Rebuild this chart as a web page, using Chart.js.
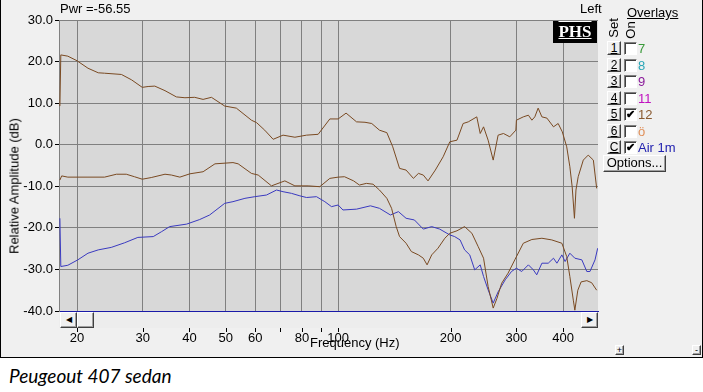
<!DOCTYPE html>
<html>
<head>
<meta charset="utf-8">
<script src="https://cdn.jsdelivr.net/npm/chart.js@4.4.1/dist/chart.umd.min.js"></script>
<style>
  body { margin: 0; width: 703px; height: 392px; background: #fff; position: relative; overflow: hidden;
         font-family: Arial, "Liberation Sans", sans-serif; font-size: 13px; color: #000; }
  #frame { position: absolute; left: 0; top: 0; width: 701px; height: 357px; background: #f0f0f0;
           border: 1px solid #000; border-top: none; }
  #chart { position: absolute; left: 0; top: 0; }
  .abs { position: absolute; white-space: nowrap; }
  .btn { position: absolute; background: #f0f0f0; box-sizing: border-box; text-align: center;
         border: 1px solid; border-color: #fff #404040 #404040 #fff; box-shadow: inset -1px -1px 0 #a0a0a0; }
  .chk { position: absolute; width: 13px; height: 13px; box-sizing: border-box; background: #fff;
         border: 1px solid; border-color: #808080 #fff #fff #808080; box-shadow: inset 1px 1px 0 #404040;
         font-size: 11px; line-height: 11px; text-align: center; font-weight: bold; }
  .lbl { position: absolute; left: 638px; font-size: 13px; }
</style>
</head>
<body>
<div id="frame"></div>
<canvas id="chart" width="703" height="359"></canvas>

<div class="abs" style="left:60px;top:1px;">Pwr =-56.55</div>
<div class="abs" style="left:580px;top:1px;">Left</div>
<div class="abs" style="left:553px;top:21px;width:44px;height:22px;background:#000;color:#fff;
     font:bold 17px 'Liberation Serif',serif;text-align:center;line-height:22px;
     text-decoration:underline overline;">PHS</div>
<div class="abs" style="left:14px;top:186px;transform:translate(-50%,-50%) rotate(-90deg);">Relative Amplitude (dB)</div>
<div class="abs" style="left:310px;top:335px;">Frequency (Hz)</div>

<!-- scroll bar under the plot -->
<div class="abs" style="left:59px;top:312px;width:539px;height:16px;background:#ededed;"></div>
<div class="btn" style="left:60px;top:312px;width:17px;height:16px;font-size:8px;line-height:14px;">&#9664;</div>
<div class="btn" style="left:77px;top:312px;width:17px;height:16px;"></div>
<div class="btn" style="left:581px;top:312px;width:17px;height:16px;font-size:8px;line-height:14px;">&#9654;</div>

<!-- overlay panel -->
<div class="abs" style="left:627px;top:5px;text-decoration:underline;">Overlays</div>
<div class="abs" style="left:613px;top:28px;transform:translate(-50%,-50%) rotate(-90deg);">Set</div>
<div class="abs" style="left:630px;top:30px;transform:translate(-50%,-50%) rotate(-90deg);">On</div>
<div id="panel"></div>
<div class="btn" style="left:603px;top:155px;width:63px;height:17px;line-height:14px;">Options...</div>
<div class="btn" style="left:615px;top:345px;width:9px;height:10px;font-size:9px;line-height:8px;">+</div>
<div class="btn" style="left:692px;top:345px;width:9px;height:10px;font-size:9px;line-height:8px;">-</div>

<div class="abs" style="left:9px;top:364px;font:italic 19px Lato,'Open Sans',sans-serif;color:#000;">Peugeout 407 sedan</div>

<script>
// upper brown trace
const freqA = [18.0, 18.1, 18.9, 20, 21.4, 22.8, 23.7, 26.3, 28.0, 29.9, 31.0, 32.3, 34.4, 36.9, 38.9, 41.3,
  43.5, 45.8, 49.7, 53.4, 58.6, 60.5, 63.6, 67.0, 71.2, 76.6, 82.3, 88.4, 95.0, 100, 105, 112, 118, 123,
  129, 135, 140, 146, 152, 159, 164, 169, 174, 182, 191, 199, 208, 216, 223, 235, 240, 245, 252, 260,
  268, 277, 288, 299, 300, 313, 323, 330, 336, 343, 351, 362, 377, 388, 398, 409, 417, 423, 429, 433,
  439, 453, 467, 482, 492];
const dbA = [9.3, 21.6, 21.3, 20.2, 18.4, 17.3, 17.2, 16.9, 15.6, 13.8, 14.0, 14.1, 13.0, 11.5, 11.3, 11.4,
  10.9, 11.4, 9.3, 8.8, 5.9, 5.3, 3.5, 1.3, 2.3, 1.8, 2.3, 2.5, 6.2, 6.2, 7.6, 5.5, 5.4, 5.1,
  3.5, 2.9, -0.5, -5.7, -6.1, -8.1, -6.9, -7.3, -8.7, -6.1, -2.9, 0.7, 1.1, 5.1, 5.5, 6.7, 2.7, 4.3, 1.1, -3.7,
  2.3, 2.7, 1.9, 3.5, 5.9, 6.7, 7.1, 5.9, 6.7, 8.8, 6.7, 6.4, 4.3, 5.1, 3.1, -0.5, -5.3, -10.1, -17.7, -10.9,
  -7.7, -3.7, -2.5, -3.7, -10.5];

// lower brown trace
const freqB = [18.0, 18.2, 18.9, 21.4, 23.7, 25.5, 27.1, 28.5, 29.9, 31.6, 34.4, 35.8, 37.7, 40.1, 43.5, 46.8,
  52.3, 54.0, 58.6, 61.1, 66.3, 72.0, 76.6, 83.1, 89.3, 95.0, 100, 104, 110, 114, 119, 124, 129, 135, 139,
  143, 146, 152, 157, 164, 169, 173, 178, 185, 193, 199, 208, 218, 228, 237, 245, 252, 260, 266, 274, 285,
  297, 313, 330, 351, 373, 397, 409, 417, 426, 430, 438, 447, 463, 477, 492];
const dbB = [-8.5, -7.5, -7.8, -7.8, -7.8, -7.1, -7.1, -7.7, -8.3, -7.9, -7.1, -7.3, -7.8, -7.0, -6.5, -4.6,
  -4.3, -4.6, -6.9, -7.3, -9.9, -8.7, -9.9, -9.9, -10.1, -8.1, -7.8, -7.7, -8.7, -9.7, -9.3, -9.5, -10.9, -12.9, -15.3,
  -19.7, -22.1, -23.7, -25.7, -26.5, -27.3, -28.9, -26.5, -24.9, -22.5, -21.3, -20.7, -19.7, -21.3, -24.5, -27.3, -34.1, -39.3, -37.0, -33.3, -30.9,
  -27.7, -23.7, -22.8, -22.5, -22.9, -23.7, -26.9, -31.7, -37.4, -39.8, -35.0, -33.0, -32.7, -33.2, -35.0];

// blue trace (Air 1m)
const freqC = [18.0, 18.1, 18.9, 20.1, 21.4, 22.8, 24.7, 26.8, 29.1, 32.0, 33.7, 35.4, 39.3, 42.6, 45.3, 49.7,
  52.3, 56.3, 59.8, 64.3, 68.4, 71.2, 75.0, 79.0, 82.3, 87.5, 92.1, 96.0, 100, 103, 112, 122, 129, 138, 145,
  152, 160, 169, 178, 187, 199, 205, 212, 218, 225, 232, 240, 245, 252, 260, 268, 280, 291, 300, 310, 323,
  333, 340, 351, 365, 377, 385, 397, 405, 417, 430, 449, 463, 472, 487, 495];
const dbC = [-17.7, -29.3, -29.0, -27.7, -26.1, -25.3, -24.7, -23.6, -22.3, -22.1, -20.9, -19.7, -19.1, -18.0, -16.9, -14.1,
  -13.7, -12.9, -12.5, -12.1, -10.9, -11.3, -11.7, -12.3, -12.7, -12.5, -13.7, -14.9, -14.5, -15.7, -15.5, -14.7, -15.3, -16.9, -16.1,
  -17.7, -18.1, -20.3, -19.7, -20.3, -21.7, -22.1, -22.9, -25.3, -26.5, -30.1, -28.9, -31.7, -34.9, -38.1, -35.4, -32.5, -30.5, -29.7, -30.5, -28.9,
  -30.1, -31.3, -28.5, -28.5, -27.3, -28.5, -26.5, -28.1, -26.1, -27.3, -27.7, -30.5, -30.5, -27.7, -24.9];

const xTicks = [20, 30, 40, 50, 60, 70, 80, 90, 100, 200, 300, 400];
const xLabels = ['20', '30', '40', '50', '60', '', '80', '', '100', '200', '300', '400'];

// overlay list on the right
const setKeys = ['1', '2', '3', '4', '5', '6', 'C'];
const overlayNames = ['7', '8', '9', '11', '12', 'ö', 'Air 1m'];
const overlayColors = ['#3a9a3a', '#2aa7b8', '#8a1a9a', '#c010c0', '#8a5a30', '#e0905a', '#2020b0'];
const overlayOn = [false, false, false, false, true, false, true];

const panel = document.getElementById('panel');
setKeys.forEach((k, i) => {
  const top = 41 + i * 16.5;
  panel.insertAdjacentHTML('beforeend',
    `<div class="btn" style="left:607px;top:${top}px;width:14px;height:14px;font-size:12px;line-height:12px;text-decoration:underline;">${k}</div>` +
    `<div class="chk" style="left:624px;top:${top + 1}px;">${overlayOn[i] ? '&#10004;' : ''}</div>` +
    `<div class="lbl" style="top:${top}px;color:${overlayColors[i]};">${overlayNames[i]}</div>`);
});

const toPts = (fs, ds) => fs.map((f, i) => ({ x: f, y: ds[i] }));

const plotBg = {
  id: 'plotBg',
  beforeDraw(chart) {
    const { ctx, chartArea: a } = chart;
    ctx.save();
    ctx.fillStyle = '#d8d8d8';
    ctx.fillRect(a.left, a.top, a.right - a.left, a.bottom - a.top);
    ctx.restore();
  },
  afterDraw(chart) {
    // small tick marks sit below the scroll bar
    const sx = chart.scales.x, ctx = chart.ctx;
    ctx.save();
    ctx.strokeStyle = '#000';
    ctx.lineWidth = 1;
    xTicks.forEach(v => {
      const px = Math.round(sx.getPixelForValue(v)) + 0.5;
      ctx.beginPath(); ctx.moveTo(px, 328); ctx.lineTo(px, 332); ctx.stroke();
    });
    ctx.restore();
  }
};

Chart.defaults.font.family = 'Arial, "Liberation Sans", sans-serif';
Chart.defaults.font.size = 13;
Chart.defaults.color = '#000';

new Chart(document.getElementById('chart'), {
  type: 'line',
  data: {
    datasets: [
      { data: toPts(freqA, dbA), borderColor: '#7a4a22', borderWidth: 1 },
      { data: toPts(freqB, dbB), borderColor: '#7a4a22', borderWidth: 1 },
      { data: toPts(freqC, dbC), borderColor: '#3a3ac0', borderWidth: 1 }
    ]
  },
  options: {
    responsive: false,
    animation: false,
    devicePixelRatio: 1,
    layout: { padding: { left: 0, top: 20, right: 105, bottom: 0 } },
    elements: { point: { radius: 0 }, line: { tension: 0 } },
    plugins: { legend: { display: false }, tooltip: { enabled: false } },
    scales: {
      x: {
        type: 'logarithmic',
        min: 17.9,
        max: 496,
        afterFit: s => { s.height = 48; },
        afterBuildTicks: s => { s.ticks = xTicks.map(v => ({ value: v })); },
        ticks: {
          autoSkip: false, maxRotation: 0, padding: 20,
          callback: (v, i) => xLabels[i]
        },
        grid: { color: '#808080', drawTicks: false },
        border: { color: '#1a1aa8', width: 1 }
      },
      y: {
        min: -40,
        max: 30,
        afterFit: s => { s.width = 59; },
        ticks: { stepSize: 10, padding: 2, callback: v => v.toFixed(1) },
        grid: {
          color: c => (c.tick && c.tick.value === -40 ? 'rgba(0,0,0,0)' : '#808080'),
          tickColor: '#000', tickLength: 4
        },
        border: { color: '#808080' }
      }
    }
  },
  plugins: [plotBg]
});
</script>
</body>
</html>
